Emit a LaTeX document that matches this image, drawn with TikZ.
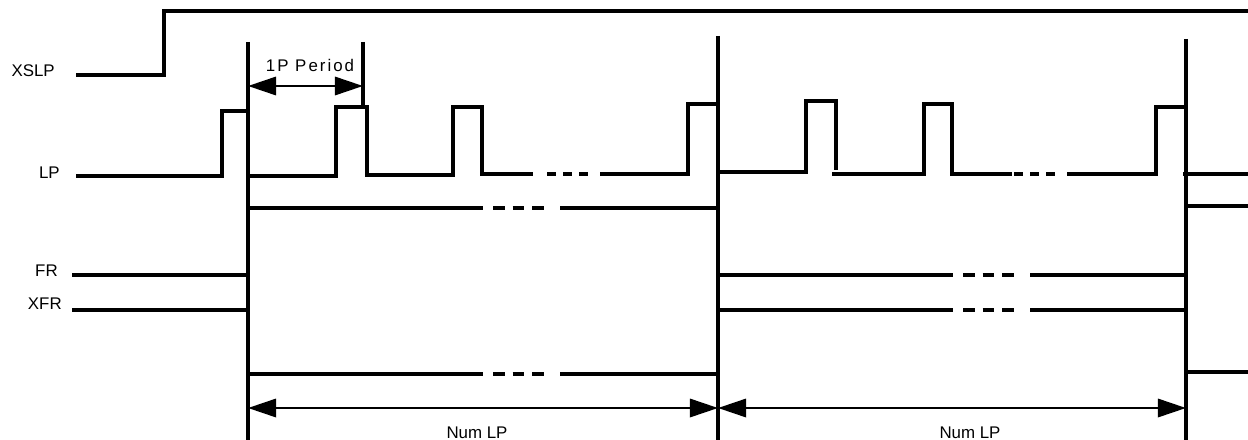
\documentclass[tikz,border=0pt]{standalone}
\usepackage{fontspec}
\setmainfont{Liberation Sans}
\usetikzlibrary{arrows.meta}
\tikzset{
	sig/.style={line width=2.2pt},
	edge/.style={line width=2.6pt},
	brk/.style={line width=2.2pt, dash pattern=on 6.4pt off 5pt},
	brkw/.style={line width=2.2pt, dash pattern=on 8.2pt off 5.8pt},
	dim/.style={line width=1.8pt, >={Triangle[length=20pt,width=13pt]}, <->},
	lbl/.style={inner sep=0pt, font=\fontsize{12}{14}\selectfont}
}
\begin{document}
\begin{tikzpicture}[x=0.025cm, y=-0.025cm]
	\useasboundingbox (0,0) rectangle (1248,440);
	\node[lbl, anchor=east] (xslp) at (55,71) {XSLP};
	\node[lbl, anchor=east] (lp) at (60,173) {LP};
	\node[lbl, anchor=east] (fr) at (58,271) {FR};
	\node[lbl, anchor=east] (xfr) at (62,304) {XFR};
	\coordinate (a1) at (248,42);
	\coordinate (a2) at (363,42);
	\coordinate (a3) at (718,36);
	\coordinate (a4) at (1186,39);
	\draw[edge] (a1) -- (248,440);
	\draw[sig] (a2) -- (363,108);
	\draw[edge] (a3) -- (718,440);
	\draw[edge] (a4) -- (1186,440);
	\draw[sig] (76,75) -- (164,75) -- (164,11) -- (1248,11);
	\draw[sig] (76,176) -- (222,176) -- (222,111) -- (248,111);
	\draw[sig] (248,176) -- (336,176) -- (336,107) -- (367,107) -- (367,175) -- (453,175)
		-- (453,107) -- (482,107) -- (482,174) -- (533,174);
	\draw[brk] (547,174) -- (588,174);
	\draw[sig] (600,174) -- (688,174) -- (688,104) -- (718,104);
	\draw[sig] (718,172) -- (806,172) -- (806,101) -- (836,101) -- (836,170);
	\draw[sig] (832,174) -- (924,174) -- (924,104) -- (952,104) -- (952,174) -- (1012,174);
	\draw[brk] (1014,174) -- (1055,174);
	\draw[sig] (1067,174) -- (1156,174) -- (1156,107) -- (1186,107);
	\draw[sig] (1183,174) -- (1248,174);
	\draw[sig] (72,275) -- (248,275);
	\draw[sig] (248,208) -- (483,208);
	\draw[brkw] (493,208) -- (545,208);
	\draw[sig] (560,208) -- (718,208);
	\draw[sig] (718,275) -- (953,275);
	\draw[brkw] (963,275) -- (1015,275);
	\draw[sig] (1030,275) -- (1186,275);
	\draw[sig] (1186,206) -- (1248,206);
	\draw[sig] (72,310) -- (248,310);
	\draw[sig] (248,374) -- (483,374);
	\draw[brkw] (493,374) -- (545,374);
	\draw[sig] (560,374) -- (718,374);
	\draw[sig] (718,310) -- (953,310);
	\draw[brkw] (963,310) -- (1015,310);
	\draw[sig] (1030,310) -- (1186,310);
	\draw[sig] (1186,372) -- (1248,372);
	\coordinate (p1) at (248,86);
	\coordinate (p2) at (363,86);
	\draw[dim] (p1) -- (p2);
	\node[lbl] (period) at (310,65) {\addfontfeature{LetterSpace=12}1P Period};
	\coordinate (n1) at (248,408);
	\coordinate (n2) at (718,408);
	\coordinate (n3) at (1186,408);
	\draw[dim] (n1) -- (n2);
	\draw[dim] (n2) -- (n3);
	\node[lbl] (numa) at (477,433) {Num LP};
	\node[lbl] (numb) at (970,433) {Num LP};
\end{tikzpicture}
\end{document}
